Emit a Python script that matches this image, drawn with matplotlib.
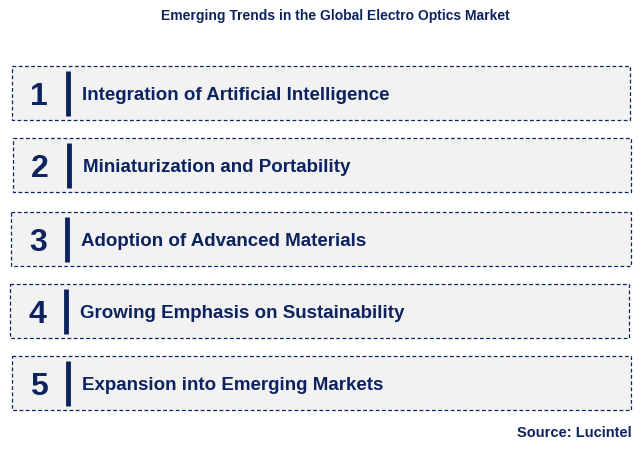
import matplotlib
matplotlib.use("Agg")
import matplotlib.pyplot as plt
from matplotlib.patches import Rectangle

numbers = ["1", "2", "3", "4", "5"]
trends = ["Integration of Artificial Intelligence",
          "Miniaturization and Portability",
          "Adoption of Advanced Materials",
          "Growing Emphasis on Sustainability",
          "Expansion into Emerging Markets"]
title = "Emerging Trends in the Global Electro Optics Market"
source = "Source: Lucintel"

navy = "#0d2360"
W, H = 642, 453
fig = plt.figure(figsize=(W/100, H/100), dpi=100)
ax = fig.add_axes([0, 0, 1, 1])
ax.set_xlim(0, W); ax.set_ylim(H, 0); ax.axis("off")

boxes = [(12, 66, 630), (13, 138, 631), (11, 212, 631), (10, 284, 629), (12, 356, 631)]
bh = 54
for (x0, y0, x1), n, t in zip(boxes, numbers, trends):
    ax.add_patch(Rectangle((x0, y0), x1 - x0, bh, facecolor="#f2f2f2",
                           edgecolor=navy, lw=0.9, ls=(0, (3, 2))))
    cy = y0 + bh/2
    ax.text(x0 + 27, cy + 4, n, fontsize=23, fontweight="bold", color=navy,
            ha="center", va="center", family="Liberation Sans")
    ax.plot([x0 + 56, x0 + 56], [y0 + 5, y0 + bh - 4], color=navy, lw=3.5,
            solid_capstyle="butt")
    ax.text(x0 + 70, cy + 3, t, fontsize=13.5, fontweight="bold", color=navy,
            ha="left", va="center", family="Liberation Sans")

ax.text(335, 16, title, fontsize=10, fontweight="bold", color=navy,
        ha="center", va="center", family="Liberation Sans")
ax.text(632, 433, source, fontsize=10.5, fontweight="bold", color=navy,
        ha="right", va="center", family="Liberation Sans")

fig.savefig("out.png", dpi=100)
